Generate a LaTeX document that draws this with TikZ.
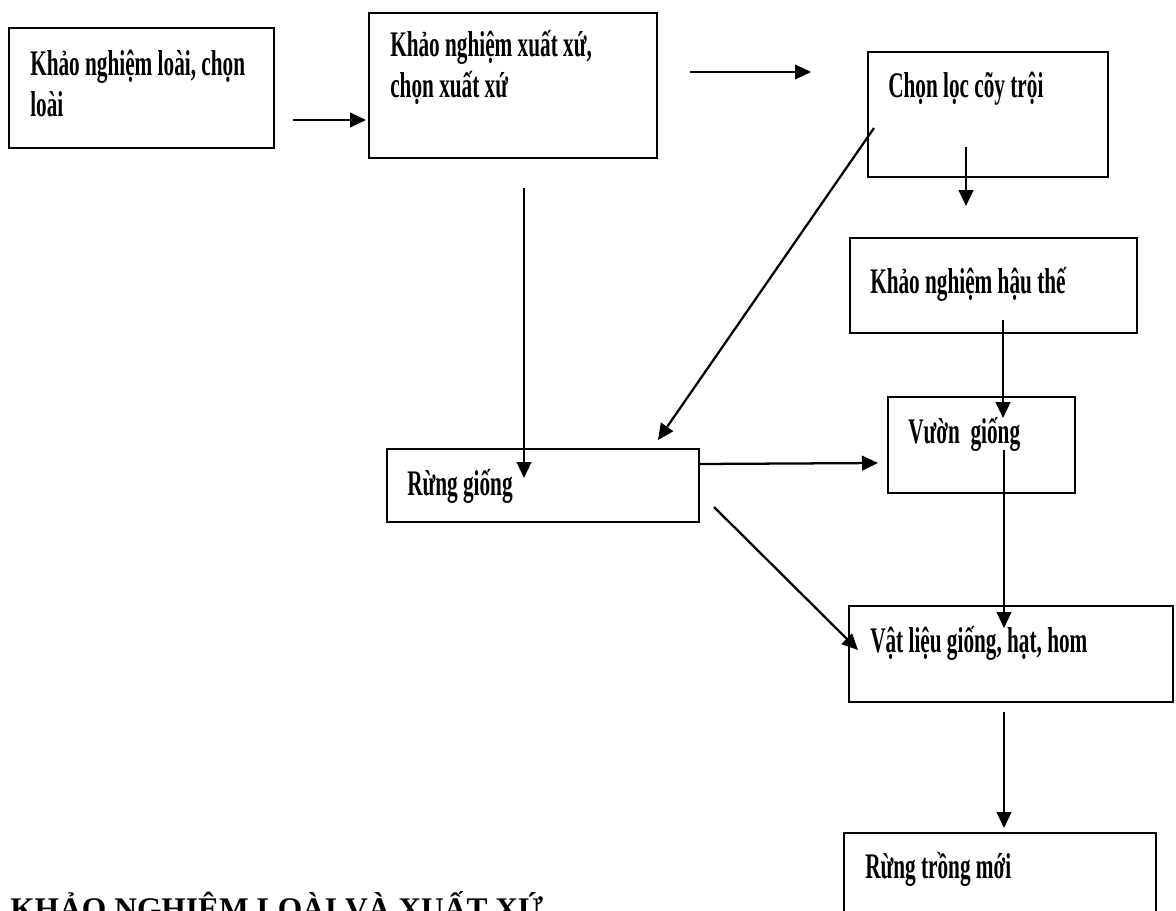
\documentclass[tikz,border=0pt]{standalone}
\usepackage{fontspec}
\setmainfont{Liberation Serif}
\newfontfamily\narrowfont{Liberation Serif}[FakeStretch=0.59]
\usetikzlibrary{arrows.meta,fit}

\tikzset{
  box/.style={draw, line width=1.7pt, inner sep=0pt},
  lbl/.style={font=\narrowfont\bfseries\fontsize{27}{30.75}\selectfont, anchor=base west, inner sep=0pt, align=left},
  arr/.style={line width=1.7pt, -{Triangle[length=12pt,width=11pt]}},
}

\begin{document}
\begin{tikzpicture}[x=0.75pt,y=-0.75pt]
		\useasboundingbox (0,0) rectangle (1176,910);
		\clip (0,0) rectangle (1176,910);

		% boxes
		\node[box, fit={(9,28) (274,148)}] (loai) {};
		\node[box, fit={(369,13) (657,158)}] (xuatxu) {};
		\node[box, fit={(868,52) (1108,177)}] (troi) {};
		\node[box, fit={(850,238) (1137,333)}] (hauthe) {};
		\node[box, fit={(888,397) (1075,493)}] (vuon) {};
		\node[box, fit={(387,449) (699,522)}] (rung) {};
		\node[box, fit={(849,606) (1173,702)}] (vatlieu) {};
		\node[box, fit={(844,833) (1156,940)}] (trongmoi) {};

		% texts (base = last line)
		\node[lbl] (loaiT) at (30,116) {Khảo nghiệm loài, chọn\\loài};
		\node[lbl] (xuatxuT) at (390,97) {Khảo nghiệm xuất xứ,\\chọn xuất xứ};
		\node[lbl] (troiT) at (888,97) {Chọn lọc cõy trội};
		\node[lbl] (hautheT) at (870,293) {Khảo nghiệm hậu thế};
		\node[lbl] (vuonT) at (908,443) {Vườn\ \ giống};
		\node[lbl] (rungT) at (407,495) {Rừng giống};
		\node[lbl] (vatlieuT) at (870,652) {Vật liệu giống, hạt, hom};
		\node[lbl] (trongmoiT) at (865,878) {Rừng trồng mới};
		\node[font=\bfseries\fontsize{23.6}{27}\selectfont, anchor=base west, inner sep=0pt] (title) at (10,919) {KHẢO NGHIỆM LOÀI VÀ XUẤT XỨ};

		% arrow ends
		\coordinate (p1) at (293,120);
		\coordinate (p2) at (366,120);
		\coordinate (p3) at (690,72);
		\coordinate (p4) at (811,72);
		\coordinate (p5) at (966,147);
		\coordinate (p6) at (966,206);
		\coordinate (p7) at (874,128);
		\coordinate (p8) at (658,440);
		\coordinate (p9) at (524,188);
		\coordinate (p10) at (524,478);
		\coordinate (p11) at (699,464);
		\coordinate (p12) at (878,463);
		\coordinate (p13) at (1003,320);
		\coordinate (p14) at (1003,418);
		\coordinate (p15) at (1004,450);
		\coordinate (p16) at (1004,628);
		\coordinate (p17) at (714,507);
		\coordinate (p18) at (858,650);
		\coordinate (p19) at (1004,712);
		\coordinate (p20) at (1004,828);

		\draw[arr] (p1) -- (p2);
		\draw[arr] (p3) -- (p4);
		\draw[arr] (p5) -- (p6);
		\draw[arr] (p7) -- (p8);
		\draw[arr] (p9) -- (p10);
		\draw[arr] (p11) -- (p12);
		\draw[arr] (p13) -- (p14);
		\draw[arr] (p15) -- (p16);
		\draw[arr] (p17) -- (p18);
		\draw[arr] (p19) -- (p20);
		\end{tikzpicture}
\end{document}
